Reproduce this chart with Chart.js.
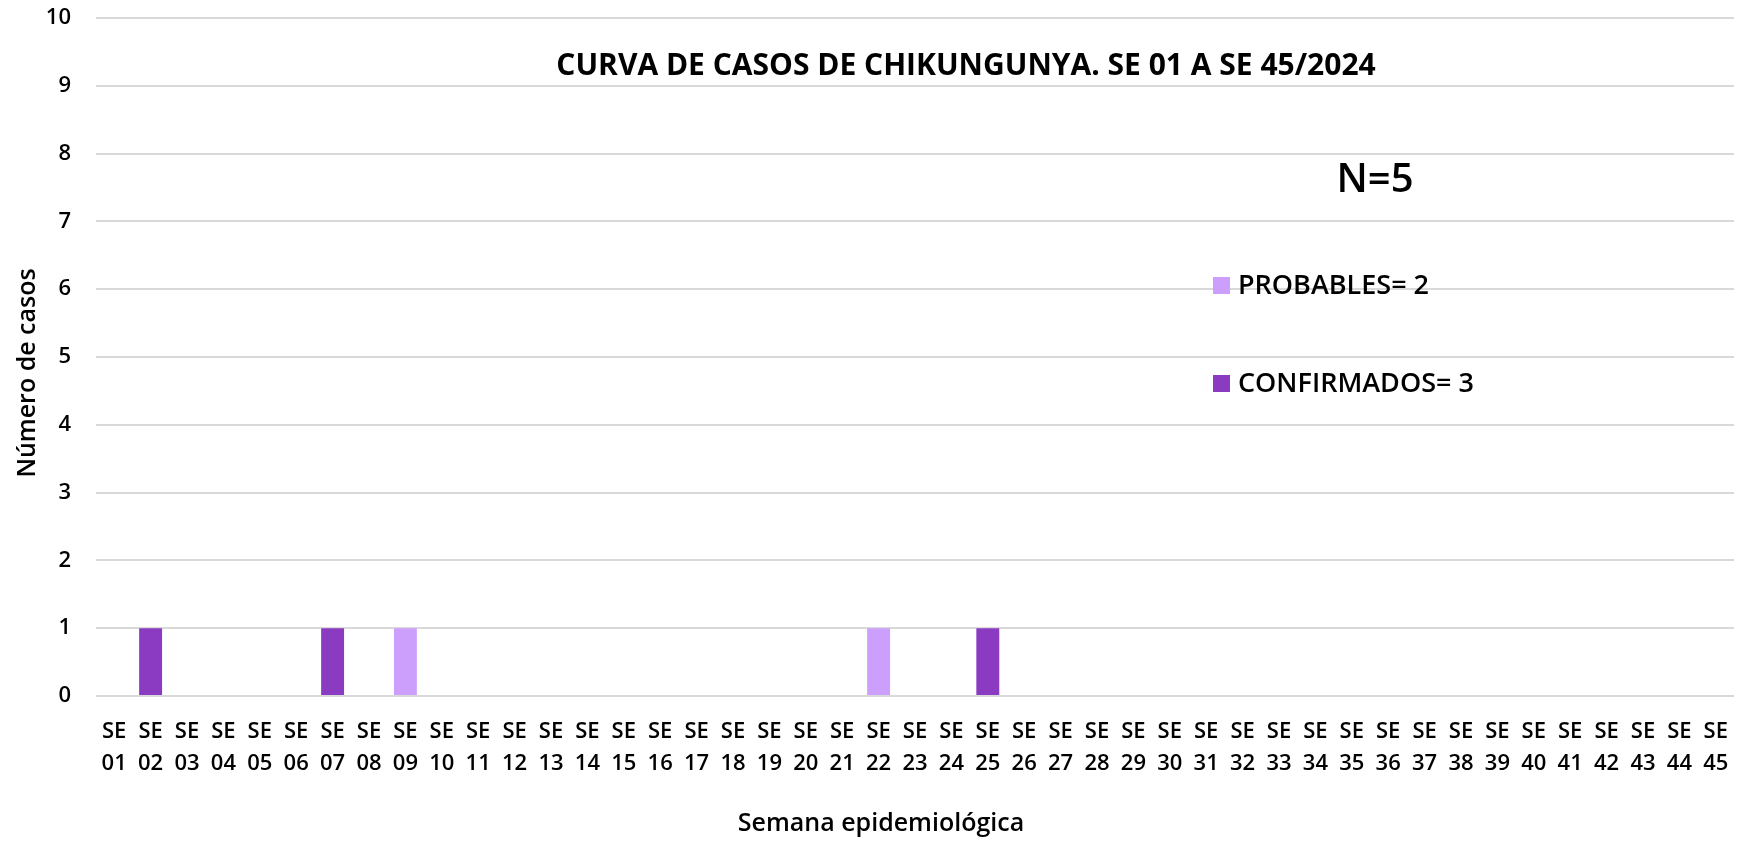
<!DOCTYPE html>
<html>
<head>
<meta charset="utf-8">
<script src="https://cdn.jsdelivr.net/npm/chart.js@4"></script>
<style>
  html, body { margin: 0; padding: 0; background: #fff; }
  #wrap { width: 1746px; height: 842px; }
</style>
</head>
<body>
<div id="wrap"><canvas id="curvaChart" width="1746" height="842"></canvas></div>
<script>
// semanas epidemiologicas SE 01 .. SE 45
const semanas = ['01','02','03','04','05','06','07','08','09','10','11','12','13','14','15',
    '16','17','18','19','20','21','22','23','24','25','26','27','28','29','30',
    '31','32','33','34','35','36','37','38','39','40','41','42','43','44','45'];
const confirmados = [0,1,0,0,0,0,1,0,0,0,0,0,0,0,0,0,0,0,0,0,0,0,0,0,1,0,0,0,0,0,0,0,0,0,0,0,0,0,0,0,0,0,0,0,0];
const probables   = [0,0,0,0,0,0,0,0,1,0,0,0,0,0,0,0,0,0,0,0,0,1,0,0,0,0,0,0,0,0,0,0,0,0,0,0,0,0,0,0,0,0,0,0,0];
const seriesLabels = ['PROBABLES= 2', 'CONFIRMADOS= 3'];
const yTicks = [0,1,2,3,4,5,6,7,8,9,10];
const tituloTexto = 'CURVA DE CASOS DE CHIKUNGUNYA. SE 01 A SE 45/2024';
const totalTexto = 'N=5';
const tituloX = 'Semana epidemiológica';
const tituloY = 'Número de casos';

const colorProbable = '#cd9ffc';
const colorConfirmado = '#8a3bc2';
const fontFamily = "'Open Sans', 'Noto Sans', sans-serif";

// draws the title, N=, axis titles and the floating legend
const anotaciones = {
    id: 'anotaciones',
    afterDraw(chart) {
        const ctx = chart.ctx;
        ctx.save();
        ctx.fillStyle = '#000';
        ctx.textBaseline = 'middle';
        ctx.textAlign = 'center';

        ctx.font = `bold 30px ${fontFamily}`;
        ctx.fillText(tituloTexto, 966, 66);

        ctx.font = `600 40px ${fontFamily}`;
        ctx.fillText(totalTexto, 1375, 181);

        ctx.font = `600 25px ${fontFamily}`;
        ctx.fillText(tituloX, 881, 824);

        ctx.save();
        ctx.translate(28, 373);
        ctx.rotate(-Math.PI / 2);
        ctx.font = `600 25px ${fontFamily}`;
        ctx.fillText(tituloY, 0, 0);
        ctx.restore();

        ctx.textAlign = 'left';
        ctx.font = `600 27px ${fontFamily}`;
        const items = [
            { text: seriesLabels[0], color: colorProbable, y: 285 },
            { text: seriesLabels[1], color: colorConfirmado, y: 383 }
        ];
        items.forEach(it => {
            ctx.fillStyle = it.color;
            ctx.fillRect(1213, it.y - 8, 17, 17);
            ctx.fillStyle = '#000';
            ctx.fillText(it.text, 1238, it.y + 1);
        });
        ctx.restore();
    }
};

const ctx = document.getElementById('curvaChart').getContext('2d');
new Chart(ctx, {
    type: 'bar',
    data: {
        labels: semanas.map(s => ['SE', s]),
        datasets: [
            {
                label: seriesLabels[1],
                data: confirmados,
                backgroundColor: colorConfirmado
            },
            {
                label: seriesLabels[0],
                data: probables,
                backgroundColor: colorProbable
            }
        ]
    },
    options: {
        responsive: false,
        animation: false,
        devicePixelRatio: 1,
        layout: { padding: { top: 0, right: 12, left: 0, bottom: 4 } },
        datasets: {
            bar: { categoryPercentage: 1, barPercentage: 0.63 }
        },
        plugins: {
            legend: { display: false },
            tooltip: { enabled: false }
        },
        scales: {
            x: {
                stacked: true,
                grid: { display: false },
                border: { display: false },
                afterFit(scale) {
                    scale.height = 142;
                },
                ticks: {
                    color: '#000',
                    font: { family: fontFamily, size: 22, weight: '600', lineHeight: 1.45 },
                    padding: 12,
                    maxRotation: 0,
                    autoSkip: false
                }
            },
            y: {
                stacked: true,
                min: 0,
                max: 10,
                afterBuildTicks(scale) {
                    scale.ticks = yTicks.map(v => ({ value: v }));
                },
                afterFit(scale) {
                    scale.width = 96;
                    scale.paddingTop = 18;
                },
                grid: { color: '#d9d9d9', lineWidth: 2, drawTicks: false },
                border: { display: false },
                ticks: {
                    color: '#000',
                    font: { family: fontFamily, size: 22, weight: '600' },
                    padding: 25
                }
            }
        }
    },
    plugins: [anotaciones]
});
</script>
</body>
</html>
